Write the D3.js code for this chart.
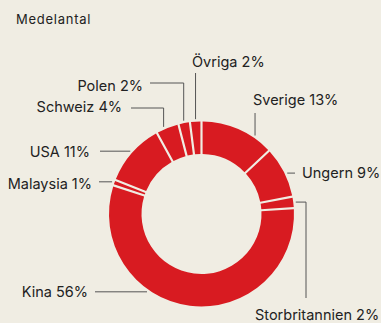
<!DOCTYPE html>
<html>
<head>
<meta charset="utf-8">
<script src="https://cdn.jsdelivr.net/npm/d3@7"></script>
<style>
  html, body { margin: 0; padding: 0; background: #f0ede3; }
  svg { display: block; }
  text { font-family: Inter, "Noto Sans", sans-serif; fill: #222; }
</style>
</head>
<body>
<svg id="chart" width="381" height="323"></svg>
<script>
// Share per country of origin (average), clockwise from 12 o'clock
const countries = ["Sverige", "Ungern", "Storbritannien", "Kina", "Malaysia", "USA", "Schweiz", "Polen", "Övriga"];
const shares = [13, 9, 2, 56, 1, 11, 4, 2, 2];
const title = "Medelantal";

// Label placement: where each callout text sits and how its leader line runs
const labelLayout = {
  "Sverige":        { tx: 253, ty: 105, anchor: "start", kind: "v", to: 113, angle: 34.3 },
  "Ungern":         { tx: 302, ty: 178, anchor: "start", kind: "h", to: 295, angle: 64.5 },
  "Storbritannien": { tx: 255, ty: 320, anchor: "start", kind: "hv", to: 306, to2: 298 },
  "Kina":           { tx: 88,  ty: 297, anchor: "end",   kind: "h", to: 95, angle: 215 },
  "Malaysia":       { tx: 92,  ty: 189, anchor: "end",   kind: "h", to: 99 },
  "USA":            { tx: 90,  ty: 157, anchor: "end",   kind: "h", to: 100 },
  "Schweiz":        { tx: 122, ty: 112, anchor: "end",   kind: "vh", to: 108, to2: 131, angle: 336.5 },
  "Polen":          { tx: 143, ty: 91,  anchor: "end",   kind: "vh", to: 83, to2: 150 },
  "Övriga":         { tx: 192, ty: 67,  anchor: "start", kind: "v", to: 73 }
};

const svg = d3.select("#chart");
const cx = 201.5, cy = 214;
const outerR = 92.5, innerR = 60, leaderR = 95;

svg.append("text")
  .attr("x", 16).attr("y", 24)
  .style("font-size", "13px")
  .style("letter-spacing", "0.75px")
  .text(title);

const data = countries.map((c, i) => ({ name: c, value: shares[i] }));

const pie = d3.pie().value(d => d.value).sort(null);
const arcs = pie(data);

const padR = Math.sqrt(outerR * outerR + innerR * innerR);
const arc = d3.arc()
  .innerRadius(innerR)
  .outerRadius(outerR)
  .padRadius(padR)
  .padAngle(2.2 / padR);

const g = svg.append("g").attr("transform", `translate(${cx},${cy})`);
g.selectAll("path.slice")
  .data(arcs)
  .join("path")
  .attr("class", "slice")
  .attr("d", arc)
  .attr("fill", "#d81b21");

// Callouts
const toPoint = (deg, r) => {
  const a = deg * Math.PI / 180;
  return [cx + r * Math.sin(a), cy - r * Math.cos(a)];
};

arcs.forEach(a => {
  const L = labelLayout[a.data.name];
  const midDeg = ((a.startAngle + a.endAngle) / 2) * 180 / Math.PI;
  const deg = L.angle !== undefined ? L.angle : midDeg;
  const p = toPoint(deg, leaderR);
  let pts;
  if (L.kind === "v") pts = [p, [p[0], L.to]];
  else if (L.kind === "h") pts = [p, [L.to, p[1]]];
  else if (L.kind === "hv") pts = [p, [L.to, p[1]], [L.to, L.to2]];
  else pts = [p, [p[0], L.to], [L.to2, L.to]];

  svg.append("path")
    .attr("d", d3.line()(pts))
    .attr("fill", "none")
    .attr("stroke", "#555")
    .attr("stroke-width", 1);

  svg.append("text")
    .attr("x", L.tx).attr("y", L.ty)
    .attr("text-anchor", L.anchor)
    .style("font-size", "14.5px")
    .text(`${a.data.name} ${a.data.value}%`);
});
</script>
</body>
</html>
